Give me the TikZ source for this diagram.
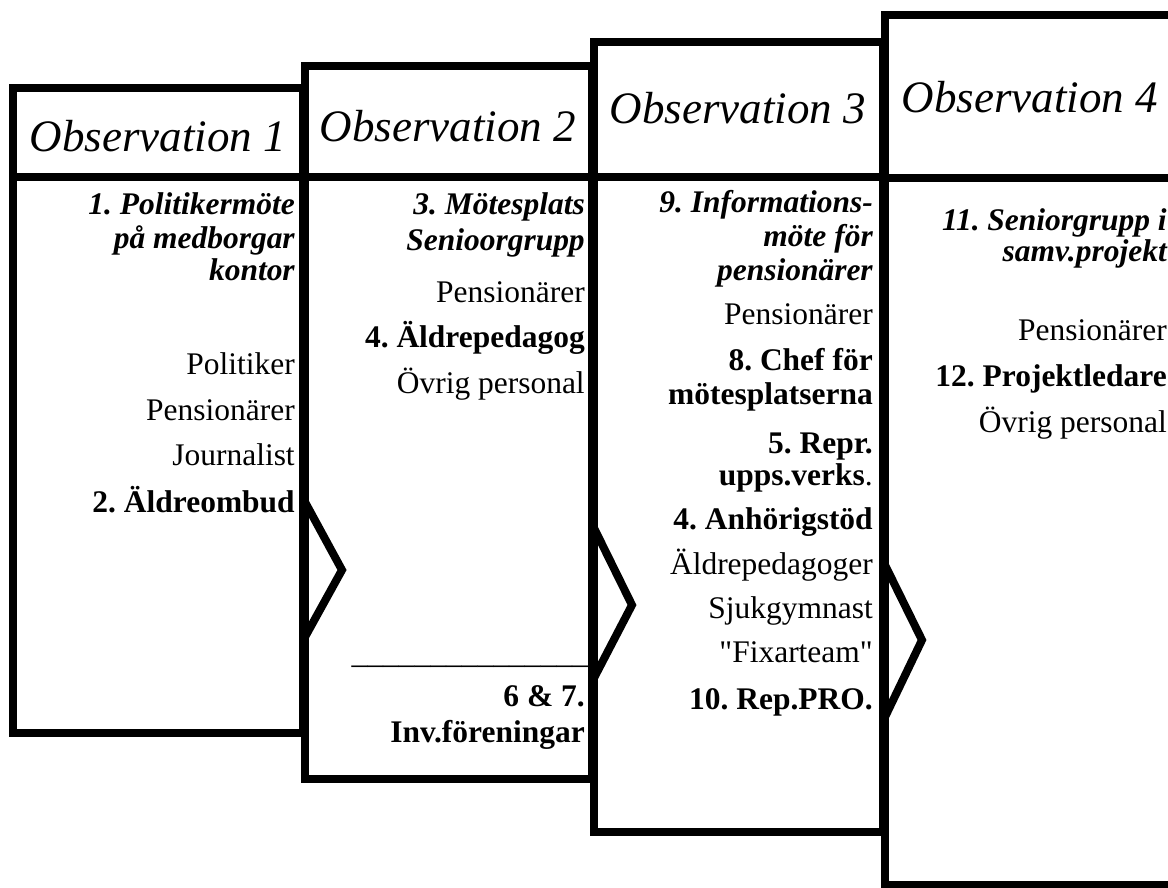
\documentclass[tikz,border=0pt]{standalone}
\usepackage{fontspec}
\setmainfont{Liberation Serif}
\usepackage{tikz}
\frenchspacing

\tikzset{
  obsbox/.style={line width=6pt,fill=white},
  chev/.style={line width=6pt,line join=miter},
  obstitle/.style={font=\fontsize{33.75}{40}\selectfont\itshape,inner sep=0pt},
  who/.style={anchor=base east,inner sep=0pt,font=\fontsize{23.6}{28}\selectfont},
  whob/.style={who,font=\fontsize{23.6}{28}\selectfont\bfseries},
  meet/.style={who,font=\fontsize{23.6}{28}\selectfont\bfseries\itshape},
}

\begin{document}
\begin{tikzpicture}[x=0.75pt,y=-0.75pt]
\clip (0,0) rectangle (1168,888);
% the four observation boxes
\draw [obsbox] (13,88) rectangle (303,733);
\draw [line width=6pt] (13,177) -- (303,177);
\draw [obsbox] (305,66) rectangle (592,779);
\draw [line width=6pt] (305,177) -- (592,177);
\draw [obsbox] (594,42) rectangle (883,832);
\draw [line width=6pt] (594,177) -- (883,177);
\draw [obsbox] (885,15) rectangle (1176,885);
\draw [line width=6pt] (885,178) -- (1176,178);
% chevrons between the boxes
\draw [chev] (305,502) -- (342,570) -- (305,637);
\draw [chev] (594,528) -- (632,605) -- (594,678);
\draw [chev] (885,565) -- (922,640) -- (885,717);

\node [obstitle] (t1) at(158,136){Observation 1};
\node [obstitle] (t2) at(448,126){Observation 2};
\node [obstitle] (t3) at(738,108){Observation 3};
\node [obstitle] (t4) at(1030,97){Observation 4};

% observation 1
\node [meet] (m1a) at(295,215){1. Politikermöte};
\node [meet] (m1b) at(295,248){på medborgar};
\node [meet] (m1c) at(295,281){kontor};
\node [who] (p1a) at(295,374){Politiker};
\node [who] (p1b) at(295,420){Pensionärer};
\node [who] (p1c) at(295,465){Journalist};
\node [whob] (p1d) at(295,512){2. Äldreombud};

% observation 2
\node [meet] (m2a) at(585,215){3. Mötesplats};
\node [meet] (m2b) at(585,251){Senioorgrupp};
\node [who] (p2a) at(585,302){Pensionärer};
\node [whob] (p2b) at(585,347){4. Äldrepedagog};
\node [who] (p2c) at(585,393){Övrig personal};
\node [who] (rule2) at(588,663){\_\_\_\_\_\_\_\_\_\_\_\_\_\_\_};
\node [whob] (p2d) at(585,706){6 \& 7.};
\node [whob] (p2e) at(585,742){Inv.föreningar};

% observation 3
\node [meet] (m3a) at(873,213){9. Informations-};
\node [meet] (m3b) at(873,247){möte för};
\node [meet] (m3c) at(873,281){pensionärer};
\node [who] (p3a) at(873,325){Pensionärer};
\node [whob] (p3b) at(873,370){8. Chef för};
\node [whob] (p3c) at(873,404){mötesplatserna};
\node [whob] (p3d) at(873,453){5. Repr.};
\node [who] (p3e) at(873,485){{\bfseries upps.verks}.};
\node [whob] (p3f) at(873,529){4. Anhörigstöd};
\node [who] (p3g) at(873,574){Äldrepedagoger};
\node [who] (p3h) at(873,618){Sjukgymnast};
\node [who] (p3i) at(873,662){\textquotedbl Fixarteam\textquotedbl};
\node [whob] (p3j) at(873,709){10. Rep.PRO.};

% observation 4
\node [meet] (m4a) at(1167,231){11. Seniorgrupp i};
\node [meet] (m4b) at(1167,262){samv.projekt};
\node [who] (p4a) at(1167,340){Pensionärer};
\node [whob] (p4b) at(1167,386){12. Projektledare};
\node [who] (p4c) at(1167,432){Övrig personal};
\end{tikzpicture}
\end{document}
